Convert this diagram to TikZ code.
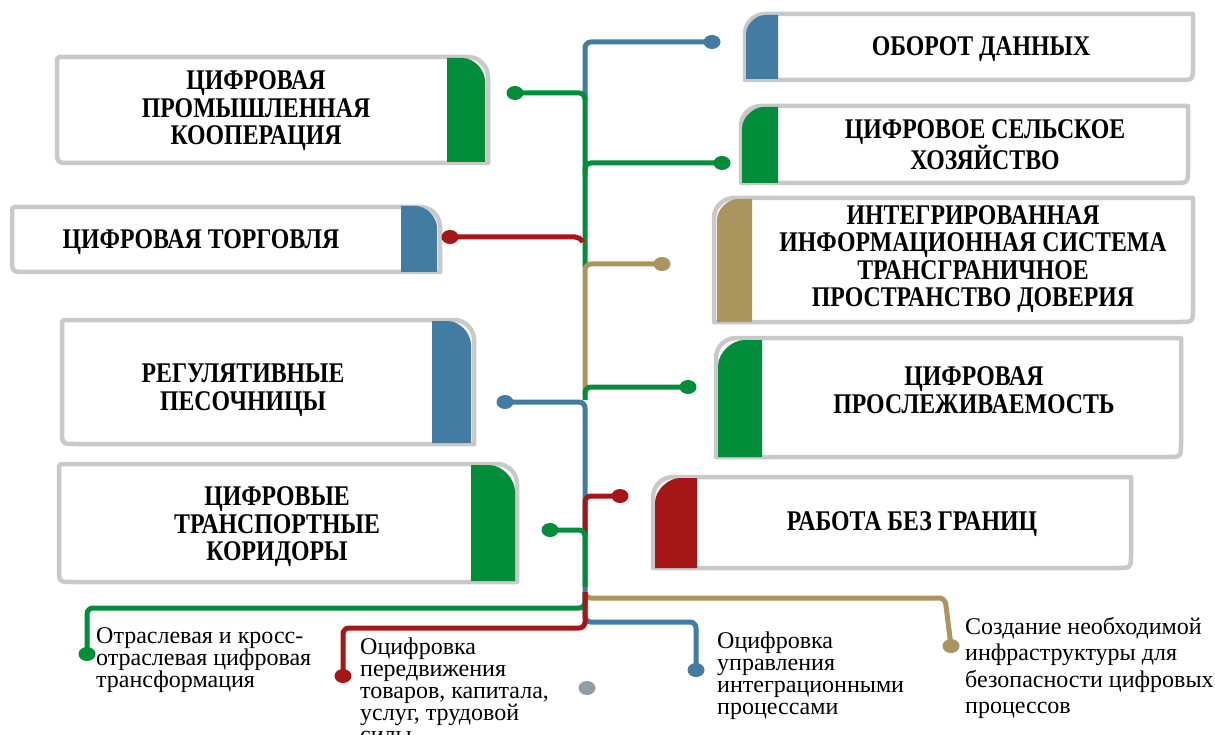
\documentclass[tikz,border=0pt]{standalone}
\usepackage{fontspec}
\setmainfont{Liberation Serif}
\newfontfamily\boxfont{Liberation Serif}[FakeStretch=0.835]
\usetikzlibrary{shapes.geometric}
\definecolor{cgreen}{RGB}{1,141,57}
\definecolor{cblue}{RGB}{67,124,163}
\definecolor{cred}{RGB}{165,22,22}
\definecolor{ctan}{RGB}{169,149,93}
\definecolor{cframe}{RGB}{201,201,201}
\definecolor{cgraydot}{RGB}{143,158,166}
\tikzset{
  frameline/.style={draw=cframe, line width=4.5pt, fill=white, line join=round},
  conn/.style={line width=5pt, rounded corners=6pt},
  pin/.style={ellipse, minimum width=17pt, minimum height=14pt, inner sep=0pt, draw=none},
  boxtext/.style={align=center, inner sep=0pt, font=\boxfont\bfseries\fontsize{28.5}{27.5}\selectfont},
  lowtext/.style={align=left, inner sep=0pt, anchor=north west, font=\fontsize{24}{22}\selectfont},
}
% left box: rounded top-right and bottom-left; tab on right
\newcommand{\leftbox}[9]{% L T R B tabL tabR tabT tabB color
  \draw[frameline] (#1+2,#2) -- (#3-20,#2) .. controls (#3-9,#2) and (#3,#2+9) .. (#3,#2+20) -- (#3,#4) -- (#1+14,#4) .. controls (#1,#4) .. (#1,#4-14) -- (#1,#2+2) -- cycle;
  \fill[#9] (#5,#7) -- ({#6-0.6*(#6-#5)},#7) .. controls ({#6-0.27*(#6-#5)},#7) and (#6,{#7+0.33*(#6-#5)}) .. (#6,{#7+0.6*(#6-#5)}) -- (#6,#8) -- (#5,#8) -- cycle;
}
\newcommand{\rightbox}[9]{% L T R B tabL tabR tabT tabB color
  \draw[frameline] (#1,#2+20) .. controls (#1,#2+9) and (#1+9,#2) .. (#1+20,#2) -- (#3,#2) -- (#3,#4-14) .. controls (#3,#4) .. (#3-14,#4) -- (#1,#4) -- cycle;
  \fill[#9] (#5,#8) -- (#5,{#7+0.6*(#6-#5)}) .. controls (#5,{#7+0.27*(#6-#5)}) and ({#5+0.33*(#6-#5)},#7) .. ({#5+0.6*(#6-#5)},#7) -- (#6,#7) -- (#6,#8) -- cycle;
}
\begin{document}
\begin{tikzpicture}[x=1pt,y=-1pt]
\useasboundingbox (0,0) rectangle (1215,735);
\clip (0,0) rectangle (1215,735);
\fill[white] (0,0) rectangle (1215,735);

% boxes
\leftbox{57}{57}{488}{163}{447}{485}{58}{162}{cgreen}
\leftbox{12}{207}{440}{272}{401}{437}{206}{272}{cblue}
\leftbox{62}{320}{474}{444}{432}{471}{321}{443}{cblue}
\leftbox{59}{464}{517}{582}{471}{515}{465}{581}{cgreen}
\rightbox{745}{14}{1193}{80}{746}{778}{15}{79}{cblue}
\rightbox{741}{106}{1188}{183}{742}{778}{107}{183}{cgreen}
\rightbox{714}{198}{1193}{322}{717}{752}{199}{322}{ctan}
\rightbox{716}{338}{1181}{457}{718}{762}{340}{457}{cgreen}
\rightbox{653}{477}{1131}{568}{655}{697}{478}{568}{cred}

% box texts
\node[boxtext] (b1) at (256,111) {ЦИФРОВАЯ\\ПРОМЫШЛЕННАЯ\\КООПЕРАЦИЯ};
\node[boxtext] (b2) at (201,242) {ЦИФРОВАЯ ТОРГОВЛЯ};
\node[boxtext] (b3) at (243,390) {РЕГУЛЯТИВНЫЕ\\ПЕСОЧНИЦЫ};
\node[boxtext] (b4) at (277,527) {ЦИФРОВЫЕ\\ТРАНСПОРТНЫЕ\\КОРИДОРЫ};
\node[boxtext] (b5) at (981,49) {ОБОРОТ ДАННЫХ};
\node[boxtext] (b6) at (985,145) {ЦИФРОВОЕ СЕЛЬСКОЕ\\ХОЗЯЙСТВО};
\node[boxtext] (b7) at (973,259) {ИНТЕГРИРОВАННАЯ\\ИНФОРМАЦИОННАЯ СИСТЕМА\\ТРАНСГРАНИЧНОЕ\\ПРОСТРАНСТВО ДОВЕРИЯ};
\node[boxtext] (b8) at (974,390) {ЦИФРОВАЯ\\ПРОСЛЕЖИВАЕМОСТЬ};
\node[boxtext] (b9) at (912,524) {РАБОТА БЕЗ ГРАНИЦ};

% pins
\node[pin, fill=cblue] (p5) at (712,42) {};
\node[pin, fill=cgreen] (p1) at (515,93) {};
\node[pin, fill=cgreen] (p6) at (722,163) {};
\node[pin, fill=cred] (p2) at (450,237) {};
\node[pin, fill=ctan] (p7) at (662,264) {};
\node[pin, fill=cgreen] (p8) at (688,387) {};
\node[pin, fill=cblue] (p3) at (505,402) {};
\node[pin, fill=cred] (p9) at (620,496) {};
\node[pin, fill=cgreen] (p4) at (550,530) {};
\node[pin, fill=cgreen] (q1) at (87,654) {};
\node[pin, fill=cred] (q2) at (343,676) {};
\node[pin, fill=cblue] (q3) at (696,670) {};
\node[pin, fill=ctan] (q4) at (951,646) {};
\node[pin, fill=cgraydot] (q5) at (587,688) {};

% trunk coordinates
\coordinate (t0) at (585,592);

% connectors (trunk and branches)
\draw[conn, cblue] (p5.center) -- (585,42) -- (585,100);
\draw[conn, cgreen] (p1.center) -- (585,93) -- (585,268);
\draw[conn, cgreen] (585,175) -- (585,163) -- (p6.center);
\draw[conn, cred, rounded corners=5pt] (p2.center) -- (580,237) -- (583,242);
\draw[conn, ctan] (p7.center) -- (585,264) -- (585,394);
\draw[conn, cgreen] (p8.center) -- (585,387) -- (585,400);
\draw[conn, cblue] (p3.center) -- (585,402) -- (t0);
\draw[conn, cred] (p9.center) -- (585,496) -- (585,536);
\draw[conn, cgreen] (p4.center) -- (585,530) -- (585,587);
\draw[conn, ctan] (t0) -- (585,598) -- (945,598) -- (q4.center);
\draw[conn, cgreen] (t0) -- (585,608) -- (87,608) -- (q1.center);
\draw[conn, cblue] (t0) -- (585,622) -- (696,622) -- (q3.center);
\draw[conn, cred] (t0) -- (585,628) -- (343,628) -- (q2.center);

% bottom texts
\node[lowtext] (l1) at (96,627) {Отраслевая и кросс-\\отраслевая цифровая\\трансформация};
\node[lowtext] (l2) at (360,638) {Оцифровка\\передвижения\\товаров, капитала,\\услуг, трудовой\\силы};
\node[lowtext] (l3) at (717,632) {Оцифровка\\управления\\интеграционными\\процессами};
\node[lowtext, font=\fontsize{24}{26.5}\selectfont] (l4) at (965,617) {Создание необходимой\\инфраструктуры для\\безопасности цифровых\\процессов};
\end{tikzpicture}
\end{document}
